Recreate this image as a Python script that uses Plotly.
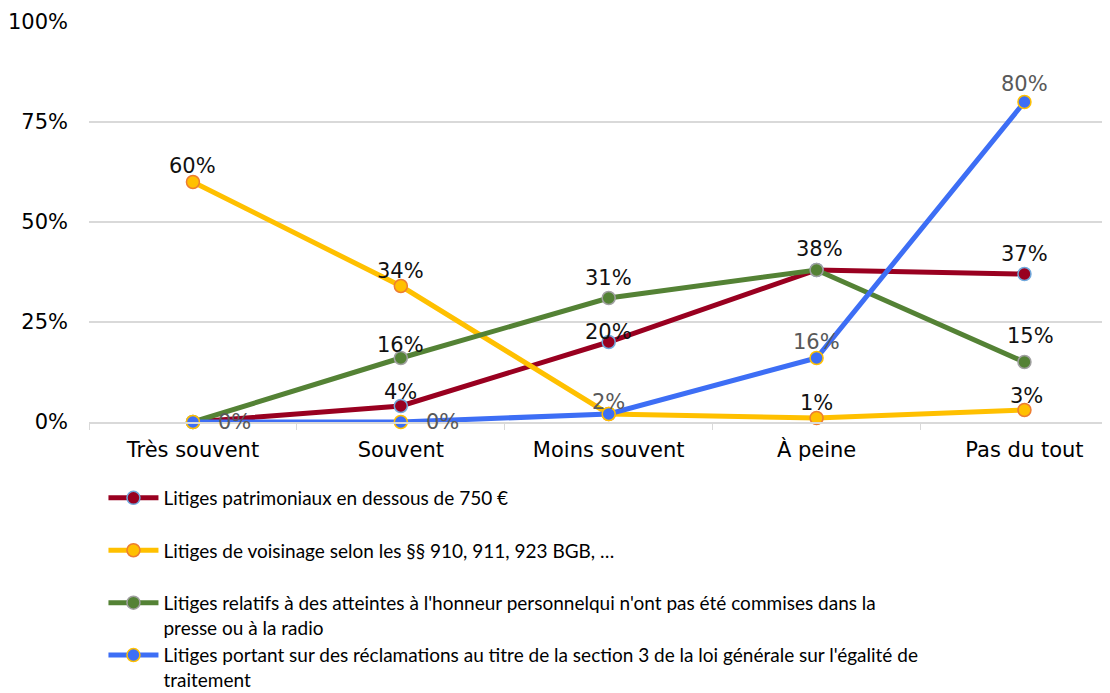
import plotly.graph_objects as go

categories = ["Très souvent", "Souvent", "Moins souvent", "À peine", "Pas du tout"]

series_names = [
    "Litiges patrimoniaux en dessous de 750 €<br> ",
    "Litiges de voisinage selon les §§ 910, 911, 923 BGB, …<br> ",
    "Litiges relatifs à des atteintes à l'honneur personnelqui n'ont pas été commises dans la<br>presse ou à la radio",
    "Litiges portant sur des réclamations au titre de la section 3 de la loi générale sur l'égalité de<br>traitement",
]
patrimoniaux = [0, 4, 20, 38, 37]
voisinage = [60, 34, 2, 1, 3]
honneur = [0, 16, 31, 38, 15]
egalite = [0, 0, 2, 16, 80]

y_tickvals = [0, 25, 50, 75, 100]
y_ticktext = ["0%", "25%", "50%", "75%", "100%"]

# which data labels are visible in the original (others hidden by overlap)
show_patrimoniaux = [False, True, True, False, True]
show_voisinage = [True, True, False, True, True]
show_honneur = [False, True, True, True, True]
show_egalite = [True, True, True, True, True]

# label placement styles (pixel offsets from the point)
yshift_styles = [
    [0, 14, 10, 0, 20],
    [16, 15, 0, 15, 14],
    [0, 13, 20, 21, 26],
    [0, 0, 12, 16, 18],
]
xshift_styles = [
    [0, 0, 0, 0, 0],
    [0, 0, 0, 0, 2],
    [0, 0, 0, 3, 6],
    [23, 23, 0, 0, 0],
]

line_colors = ["#990020", "#FFC000", "#548235", "#3D6EF5"]
marker_lines = ["#6FA8DC", "#ED7D31", "#A0A0A0", "#FFC000"]
label_colors = ["#111111", "#111111", "#111111", "#595959"]
values = [patrimoniaux, voisinage, honneur, egalite]
shows = [show_patrimoniaux, show_voisinage, show_honneur, show_egalite]

FONT = "DejaVu Sans, Liberation Sans, Arial"
FS = 21

fig = go.Figure()
for name, vals, lc, mlc in zip(series_names, values, line_colors, marker_lines):
    fig.add_trace(go.Scatter(
        x=categories, y=vals, name=name, mode="lines+markers",
        line=dict(color=lc, width=5),
        marker=dict(size=13, color=lc, line=dict(color=mlc, width=1.5)),
        cliponaxis=False,
    ))

for vals, show, ys, xs, tc in zip(values, shows, yshift_styles, xshift_styles, label_colors):
    for cat, v, s, dy, dx in zip(categories, vals, show, ys, xs):
        if not s:
            continue
        fig.add_annotation(
            x=cat, y=v, text=f"{v}%", showarrow=False,
            xanchor="left" if dx >= 20 else "center", yanchor="middle",
            xshift=dx, yshift=dy,
            font=dict(family=FONT, size=FS, color=tc),
        )

fig.update_layout(
    width=1110, height=693,
    margin=dict(l=81, r=0, t=14, b=279, autoexpand=False),
    paper_bgcolor="white", plot_bgcolor="white",
    font=dict(family=FONT, size=FS, color="#000000"),
    showlegend=True,
    legend=dict(
        xref="container", yref="container",
        x=0.086, y=1 - 471 / 693, xanchor="left", yanchor="top",
        orientation="v", valign="top",
        font=dict(family="Lato", size=19, color="#000000"),
        itemwidth=50,
        traceorder="normal",
    ),
)
fig.update_xaxes(
    type="category", range=[-0.5, 4.45],
    showgrid=False, showline=True, linecolor="#D9D9D9", linewidth=1.5,
    ticks="outside", tickson="boundaries", ticklen=6, tickcolor="#D9D9D9",
    ticklabelstandoff=8,
    tickfont=dict(family=FONT, size=FS, color="#000000"),
    fixedrange=True,
)
fig.update_yaxes(
    range=[0, 100], tickmode="array", tickvals=y_tickvals, ticktext=y_ticktext,
    showgrid=True, gridcolor="#D9D9D9", gridwidth=1.5,
    zeroline=False, showline=False,
    ticklabelstandoff=20,
    tickfont=dict(family=FONT, size=FS, color="#000000"),
)

fig.write_html("out.html")
